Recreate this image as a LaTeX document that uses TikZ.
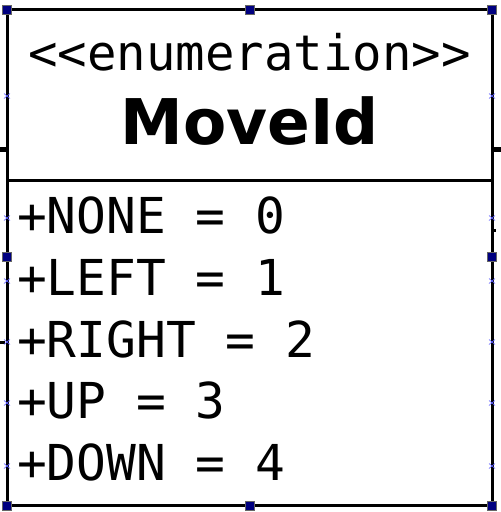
\documentclass[tikz,border=0pt]{standalone}
\usepackage{fontspec}
\setsansfont{DejaVu Sans}
\newfontfamily\umlmono{DejaVu Sans Mono}
\definecolor{handleblue}{RGB}{0,0,128}
\definecolor{pinblue}{RGB}{90,90,255}

\tikzset{
  handle/.style={fill=handleblue, draw=black!60, line width=0.3pt, minimum size=9pt, inner sep=0pt},
  pinmark/.style={draw=pinblue, line width=0.6pt},
  stub/.style={line width=5pt}
}

\begin{document}
\begin{tikzpicture}[x=1pt, y=-1pt]
  \useasboundingbox (0,0) rectangle (501,512);

  % Class box
  \draw[line width=3pt] (7,9.5) rectangle (492,505.5);
  \draw[line width=3pt] (7,180.5) -- (492,180.5);

  % Title
  \node[anchor=base, inner sep=0pt, font=\umlmono\fontsize{49}{50}\selectfont] (stereo) at (249.5,70) {<{}<enumeration>{}>};
  \node[anchor=base, inner sep=0pt, font=\sffamily\bfseries\fontsize{63}{66}\selectfont] (name) at (249.5,144.5) {MoveId};

  % Literals
  \foreach \lit [count=\i from 0] in {NONE,LEFT,RIGHT,UP,DOWN}
    \node[anchor=base west, inner sep=0pt, font=\umlmono\fontsize{49.5}{50}\selectfont] (lit\i) at (17,{233.5+61.75*\i}) {+\lit{} = \i};

  % Edge stubs
  \draw[stub] (0,149.5) -- (7,149.5);
  \draw[stub] (492,149.5) -- (501,149.5);
  \draw[line width=3pt] (0,342) -- (5,342);
  \draw[line width=3pt] (492,230) -- (496,230);

  % Connection points
  \foreach \y in {96,218,281,342,403,466} {
    \draw[pinmark] (4,\y-2.5) -- (10,\y+2.5) (4,\y+2.5) -- (10,\y-2.5);
    \draw[pinmark] (489,\y-2.5) -- (495,\y+2.5) (489,\y+2.5) -- (495,\y-2.5);
  }

  % Handles
  \foreach \x/\y [count=\k] in {7/9.5,249.5/9.5,492/9.5,7/257,492/257,7/505.5,249.5/505.5,492/505.5}
    \node[handle] (h\k) at (\x,\y) {};
\end{tikzpicture}
\end{document}
